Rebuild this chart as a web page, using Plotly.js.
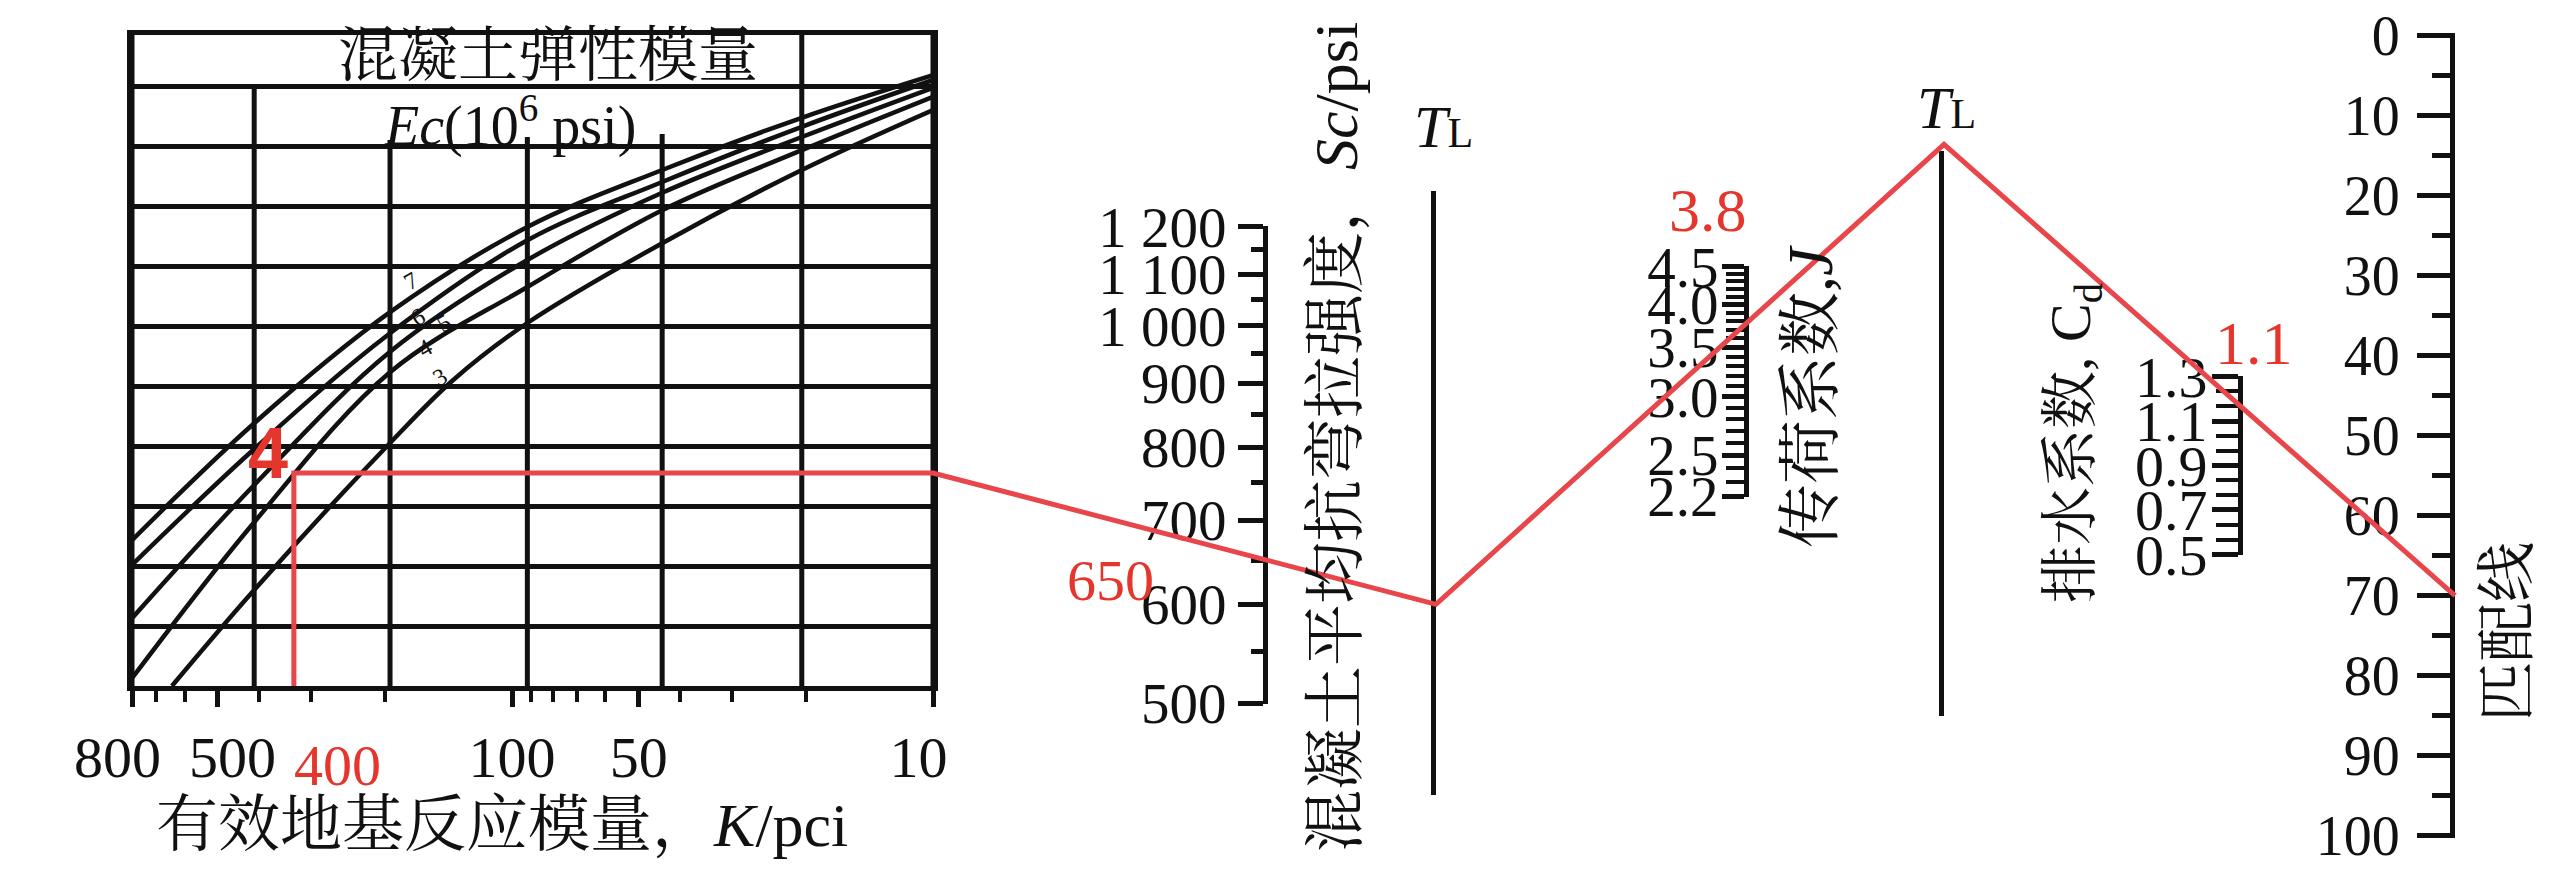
<!DOCTYPE html>
<html>
<head>
<meta charset="utf-8">
<script src="https://cdn.plot.ly/plotly-3.0.1.min.js"></script>
<style>
html,body{margin:0;padding:0;background:#fff;overflow:hidden}
#chart{width:2558px;height:873px}
</style>
</head>
<body>
<div id="chart"></div>
<script>
// ---------------- data ----------------
// left chart: effective modulus of subgrade reaction K (log, reversed) vs. nomograph grid units
const kTickVals = [800, 500, 100, 50, 10];
const kTickText = ['800\u2002', '\u2002500', '100', '50', '10\u2002'];
const gridK   = [800, 410, 195, 92, 44, 20.5, 10];        // vertical grid lines
const gridTop = [10.85, 10, 9.1, 9.15, 9.2, 10.85, 10.85]; // where each vertical line stops
const ecNames = ['7', '6', '5', '4', '3'];
const ec7K = [800, 410, 195, 92, 44, 20.5, 10];
const ec7Y = [2.43, 4.38, 6.23, 7.65, 8.6, 9.47, 10.18];
const ec6K = [800, 410, 195, 92, 44, 20.5, 10];
const ec6Y = [2.02, 3.95, 5.88, 7.43, 8.4, 9.32, 10.1];
const ec5K = [800, 410, 195, 92, 44, 20.5, 10];
const ec5Y = [1.13, 3.35, 5.57, 7.1, 8.22, 9.15, 9.97];
const ec4K = [800, 410, 195, 92, 44, 20.5, 10];
const ec4Y = [0.13, 2.73, 5.23, 6.65, 7.93, 8.93, 9.82];
const ec3K = [643, 410, 195, 138, 92, 44, 20.5, 10];
const ec3Y = [0, 1.6, 4.05, 5.1, 6.05, 7.38, 8.6, 9.6];
const kDrawn = 330;      // where the red vertical is drawn
const kLabel = '400';    // value written next to it
const redY = 3.55;       // height of the red horizontal
const ecRedLabel = '4';

// concrete flexural strength Sc (psi), log scale
const scTicks = [500, 600, 700, 800, 900, 1000, 1100, 1200];
const scTickText = ['500', '600', '700', '800', '900', '1 000', '1 100', '1 200'];
const scMinor = [550, 650, 750, 850, 950, 1050, 1150];
const scValue = 650;

// load transfer coefficient J
const jTicks = [2.2, 2.5, 3.0, 3.5, 4.0, 4.5];
const jTickText = ['2.2', '2.5', '3.0', '3.5', '4.0', '4.5'];
const jMinor = [2.3, 2.4, 2.6, 2.7, 2.8, 2.9, 3.1, 3.2, 3.3, 3.4, 3.6, 3.7, 3.8, 3.9, 4.1, 4.2, 4.3, 4.4];
const jValue = 3.8;

// drainage coefficient Cd
const cdTicks = [0.5, 0.7, 0.9, 1.1, 1.3];
const cdTickText = ['0.5', '0.7', '0.9', '1.1', '1.3'];
const cdValue = 1.1;

// match line
const matchTicks = [0, 10, 20, 30, 40, 50, 60, 70, 80, 90, 100];
const matchTickText = ['0', '10', '20', '30', '40', '50', '60', '70', '80', '90', '100'];
const matchValue = 70;

// ---------------- styling / layout ----------------
const W = 2558, H = 873;
const fx = p => p / W;
const fy = p => 1 - p / H;
const INK = '#111111';
const RED_TXT = '#e4362c';
const RED_LINE = '#e8464a';
const serif = "'Liberation Serif','Times New Roman',serif";
const cjk = "'Liberation Serif','Noto Serif CJK SC','Noto Sans CJK SC',serif";
const tickFont = {family: serif, size: 57, color: INK};

function pinX(xPx) {
  return {domain: [fx(xPx), fx(xPx) + 0.002], range: [0, 1], visible: false, fixedrange: true};
}
function scaleAxis(extra) {
  return Object.assign({
    side: 'left', showline: true, linewidth: 5, linecolor: INK,
    ticks: 'outside', tickwidth: 5, tickcolor: INK, showgrid: false, zeroline: false,
    tickfont: tickFont, fixedrange: true, tickmode: 'array', ticklabeloverflow: 'allow'
  }, extra);
}
function plainLine(extra) {
  return Object.assign({
    showline: true, linewidth: 5, linecolor: INK, ticks: '', showticklabels: false,
    showgrid: false, zeroline: false, range: [0, 1], fixedrange: true
  }, extra);
}

const curveStyle = {color: INK, width: 4.5, shape: 'spline', smoothing: 1};
const curves = [
  [ec7K, ec7Y], [ec6K, ec6Y], [ec5K, ec5Y], [ec4K, ec4Y], [ec3K, ec3Y]
].map((c, i) => ({
  type: 'scatter', mode: 'lines', x: c[0], y: c[1], xaxis: 'x', yaxis: 'y',
  line: curveStyle, name: 'Ec ' + ecNames[i], hoverinfo: 'skip', showlegend: false
}));

const gx = [], gy = [];
gridK.forEach((k, i) => { gx.push(k, k, null); gy.push(0, gridTop[i], null); });
const gridTrace = {type: 'scatter', mode: 'lines', x: gx, y: gy, xaxis: 'x', yaxis: 'y',
  line: {color: INK, width: 5}, hoverinfo: 'skip', showlegend: false};

function holder(xa, ya, yvals) {
  return {type: 'scatter', mode: 'markers', x: yvals.map(() => 0.5), y: yvals,
    xaxis: xa, yaxis: ya, marker: {opacity: 0, size: 1}, hoverinfo: 'skip', showlegend: false};
}

const traces = [gridTrace].concat(curves, [
  holder('x3', 'y3', scTicks),
  holder('x4', 'y4', [0, 1]),
  holder('x5', 'y5', jTicks),
  holder('x6', 'y6', [0, 1]),
  holder('x7', 'y7', cdTicks),
  holder('x8', 'y8', matchTicks),
  holder('x9', 'y9', [0, 1])
]);

function ann(text, xPx, yPx, size, opts) {
  return Object.assign({
    text: text, xref: 'paper', yref: 'paper', x: fx(xPx), y: fy(yPx),
    xanchor: 'center', yanchor: 'middle', showarrow: false,
    font: {family: cjk, size: size, color: INK}
  }, opts || {});
}
const tl = '<i>T</i><span style="font-size:42px">L</span>';

const annotations = [
  ann('混凝土弹性模量', 548, 56, 60),
  ann('<i>Ec</i>(10<sup>6</sup> psi)', 510, 122, 56, {font: {family: serif, size: 56, color: INK}}),
  ann(ecNames[0], 411, 281, 24, {textangle: -30}),
  ann(ecNames[1], 418, 317, 24, {textangle: -30}),
  ann(ecNames[2], 444, 323, 24, {textangle: -30}),
  ann(ecNames[3], 425, 348, 24, {textangle: -30}),
  ann(ecNames[4], 440, 377, 24, {textangle: -30}),
  ann(ecRedLabel, 268, 453, 72, {font: {family: "'Liberation Sans',Arial,sans-serif", size: 72, color: RED_TXT, weight: 700}}),
  ann(kLabel, 338, 765, 58, {font: {family: serif, size: 58, color: RED_TXT}}),
  ann('有效地基反应模量，<i>K</i>/pci', 502, 825, 62),
  ann(tl, 1443, 127, 60, {font: {family: serif, size: 60, color: INK}}),
  ann('混凝土平均抗弯拉强度，<i>Sc</i>/psi', 1336, 437, 62, {textangle: -90}),
  ann(String(scValue), 1110, 580, 58, {font: {family: serif, size: 58, color: RED_TXT}}),
  ann(String(jValue), 1708, 210, 62, {font: {family: serif, size: 62, color: RED_TXT}}),
  ann('传荷系数,<i>J</i>', 1811, 397, 64, {textangle: -90}),
  ann(tl, 1946, 108, 60, {font: {family: serif, size: 60, color: INK}}),
  ann('排水系数, C<sub>d</sub>', 2074, 443, 58, {textangle: -90}),
  ann(String(cdValue), 2254, 343, 62, {font: {family: serif, size: 62, color: RED_TXT}}),
  ann('匹配线', 2508, 632, 60, {textangle: -90})
];

const lg = Math.log10;
const layout = {
  width: W, height: H,
  margin: {l: 0, r: 0, t: 0, b: 0, pad: 0},
  paper_bgcolor: '#ffffff', plot_bgcolor: 'rgba(0,0,0,0)',
  showlegend: false,
  font: {family: serif, color: INK},
  xaxis: {
    type: 'log', domain: [fx(132), fx(933)], range: [lg(800), 1],
    tickmode: 'array', tickvals: kTickVals, ticktext: kTickText, tickangle: 0,
    ticks: 'outside', ticklen: 16, tickwidth: 5, tickcolor: INK, ticklabeloverflow: 'allow',
    minor: {ticks: 'outside', ticklen: 11, tickwidth: 4, tickcolor: INK, dtick: 'D1', showgrid: false},
    showgrid: false, showline: true, mirror: true, linewidth: 5, linecolor: INK,
    tickfont: {family: serif, size: 58, color: INK}, zeroline: false, fixedrange: true, anchor: 'y'
  },
  yaxis: {
    domain: [fy(686), fy(35)], range: [0, 10.85], tickmode: 'linear', tick0: 0, dtick: 1,
    showgrid: true, gridcolor: INK, gridwidth: 5, showticklabels: false, ticks: '',
    showline: true, mirror: true, linewidth: 5, linecolor: INK, zeroline: false,
    fixedrange: true, anchor: 'x'
  },
  xaxis3: pinX(1268),
  yaxis3: scaleAxis({anchor: 'x3', type: 'log', domain: [fy(704), fy(226)],
    range: [lg(500) - 0.0006, lg(1200) + 0.0006], tickvals: scTicks, ticktext: scTickText,
    ticklen: 25, ticklabelstandoff: 0,
    minor: {tickmode: 'array', tickvals: scMinor, ticks: 'outside', ticklen: 12, tickwidth: 5, tickcolor: INK}}),
  xaxis4: pinX(1436),
  yaxis4: plainLine({anchor: 'x4', domain: [fy(795), fy(191)]}),
  xaxis5: pinX(1749),
  yaxis5: scaleAxis({anchor: 'x5', type: 'log', domain: [fy(497), fy(266)],
    range: [lg(2.2) - 0.001, lg(4.5) + 0.001], tickvals: jTicks, ticktext: jTickText,
    ticklen: 22, ticklabelstandoff: -8, tickfont: {family: serif, size: 57, color: INK},
    minor: {tickmode: 'array', tickvals: jMinor, ticks: 'outside', ticklen: 18, tickwidth: 4, tickcolor: INK}}),
  xaxis6: pinX(1944),
  yaxis6: plainLine({anchor: 'x6', domain: [fy(716), fy(151)]}),
  xaxis7: pinX(2243),
  yaxis7: scaleAxis({anchor: 'x7', domain: [fy(555), fy(376)],
    range: [0.497, 1.303], tickvals: cdTicks, ticktext: cdTickText,
    ticklen: 26, ticklabelstandoff: -7, tickfont: {family: serif, size: 58, color: INK},
    minor: {tickmode: 'linear', tick0: 0.5, dtick: 0.2 / 3, ticks: 'outside', ticklen: 22, tickwidth: 4, tickcolor: INK}}),
  xaxis8: pinX(2455),
  yaxis8: scaleAxis({anchor: 'x8', domain: [fy(838), fy(33)],
    range: [100.3, -0.3], tickvals: matchTicks, ticktext: matchTickText,
    ticklen: 33, ticklabelstandoff: 6, tickfont: {family: serif, size: 56, color: INK},
    minor: {tickmode: 'linear', tick0: 0, dtick: 5, ticks: 'outside', ticklen: 18, tickwidth: 5, tickcolor: INK}}),
  xaxis9: {domain: [0, 1], range: [0, 1], visible: false, fixedrange: true, anchor: 'y9'},
  yaxis9: {domain: [0, 1], range: [0, 1], visible: false, fixedrange: true, anchor: 'x9'},
  annotations: annotations
};

const gd = document.getElementById('chart');

// pixel position of a value on one of the library's axes
function axPix(name, v) {
  const ax = gd._fullLayout[name];
  if (ax && typeof ax.l2p === 'function' && typeof ax.d2l === 'function') {
    return ax._offset + ax.l2p(ax.d2l(v));
  }
  const L = layout[name];
  const isLog = L.type === 'log';
  const lv = isLog ? Math.log10(v) : v;
  const r0 = L.range[0], r1 = L.range[1];
  const t = (lv - r0) / (r1 - r0);
  if (name.charAt(0) === 'x') return W * L.domain[0] + t * W * (L.domain[1] - L.domain[0]);
  return H * (1 - L.domain[1]) + (1 - t) * H * (L.domain[1] - L.domain[0]);
}
function axLineX(xname) {
  const ax = gd._fullLayout[xname];
  if (ax && typeof ax._offset === 'number') return ax._offset;
  return W * layout[xname].domain[0];
}
function extendTo(a, b, xT) {
  const t = (xT - a[0]) / (b[0] - a[0]);
  return [xT, a[1] + t * (b[1] - a[1])];
}

Plotly.newPlot(gd, traces, layout, {staticPlot: true, displayModeBar: false}).then(function () {
  const p0 = [axPix('xaxis', kDrawn), axPix('yaxis', 0)];
  const p1 = [axPix('xaxis', kDrawn), axPix('yaxis', redY)];
  const p2 = [axPix('xaxis', 10), axPix('yaxis', redY)];
  const p3 = [axLineX('xaxis3'), axPix('yaxis3', scValue)];
  const p4 = extendTo(p2, p3, axLineX('xaxis4'));
  const p5 = [axLineX('xaxis5'), axPix('yaxis5', jValue)];
  const p6 = extendTo(p4, p5, axLineX('xaxis6'));
  const p7 = [axLineX('xaxis8'), axPix('yaxis8', matchValue)];
  const pts = [p0, p1, p2, p3, p4, p5, p6, p7];
  return Plotly.addTraces(gd, {
    type: 'scatter', mode: 'lines', xaxis: 'x9', yaxis: 'y9',
    x: pts.map(p => p[0] / W), y: pts.map(p => 1 - p[1] / H),
    line: {color: RED_LINE, width: 5}, hoverinfo: 'skip', showlegend: false
  });
});
</script>
</body>
</html>
